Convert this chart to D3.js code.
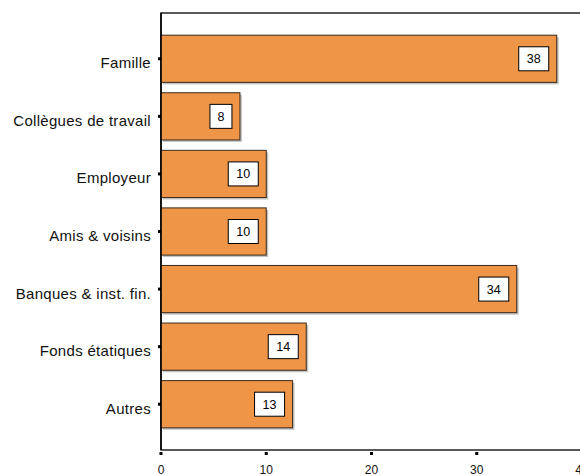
<!DOCTYPE html>
<html>
<head>
<meta charset="utf-8">
<script src="https://cdn.jsdelivr.net/npm/d3@7"></script>
<style>
  body { margin: 0; background: #fff; }
  svg { font-family: "Liberation Sans", Arial, sans-serif; }
</style>
</head>
<body>
<svg id="svg1" width="580" height="476"></svg>
<script>
var categories = ['Famille', 'Collègues de travail', 'Employeur', 'Amis & voisins', 'Banques & inst. fin.', 'Fonds étatiques', 'Autres'];
var values = [37.6, 7.5, 10, 10, 33.8, 13.8, 12.5];
var valueLabels = ['38', '8', '10', '10', '34', '14', '13'];
var xTicks = [0, 10, 20, 30, 40];

var marginLeft = 161;
var marginTop = 13;
var plotBottom = 450;

var svg = d3.select('#svg1');

var scaleX = d3.scaleLinear().domain([0, 40]).range([marginLeft, marginLeft + 421]);
var scaleY = d3.scaleBand().domain(categories).range([30, 433]).paddingInner(0.18).paddingOuter(0.09);

var data = categories.map(function(c, i){ return {cat: c, val: values[i], lab: valueLabels[i]}; });

// frame
svg.append('rect')
    .attr('x', marginLeft).attr('y', marginTop)
    .attr('width', scaleX(40) - marginLeft).attr('height', plotBottom - marginTop)
    .attr('fill', 'none').attr('stroke', '#000').attr('stroke-width', 1.3);

// shadows
svg.selectAll('.shadow').data(data).enter().append('rect')
    .attr('x', marginLeft + 2)
    .attr('y', function(d){ return scaleY(d.cat) + 2; })
    .attr('width', function(d){ return scaleX(d.val) - marginLeft; })
    .attr('height', scaleY.bandwidth())
    .attr('fill', '#c4c4c4');

// bars
svg.selectAll('.bar').data(data).enter().append('rect')
    .attr('x', marginLeft)
    .attr('y', function(d){ return scaleY(d.cat); })
    .attr('width', function(d){ return scaleX(d.val) - marginLeft; })
    .attr('height', scaleY.bandwidth())
    .attr('fill', '#EE9548')
    .attr('stroke', '#3a2a1a').attr('stroke-width', 1);

// value boxes
var lbl = svg.selectAll('.lbl').data(data).enter().append('g');
lbl.each(function(d){
    var g = d3.select(this);
    var w = d.lab.length > 1 ? 30 : 22;
    var right = scaleX(d.val) - 8;
    var cy = scaleY(d.cat) + scaleY.bandwidth() / 2;
    g.append('rect')
        .attr('x', right - w).attr('y', cy - 12)
        .attr('width', w).attr('height', 24)
        .attr('fill', '#fff').attr('stroke', '#000').attr('stroke-width', 1);
    g.append('text')
        .attr('x', right - w / 2).attr('y', cy + 4.5)
        .attr('text-anchor', 'middle').attr('font-size', 12.5)
        .text(d.lab);
});

// y axis
svg.append('line')
    .attr('x1', marginLeft).attr('x2', marginLeft)
    .attr('y1', marginTop).attr('y2', plotBottom)
    .attr('stroke', '#000').attr('stroke-width', 1.5);

svg.selectAll('.ytick').data(categories).enter().append('rect')
    .attr('x', marginLeft - 3)
    .attr('y', function(d){ return scaleY(d) + scaleY.bandwidth() / 2 - 1.5; })
    .attr('width', 3).attr('height', 3).attr('fill', '#000');

svg.selectAll('.ylab').data(categories).enter().append('text')
    .attr('x', 151)
    .attr('y', function(d){ return scaleY(d) + scaleY.bandwidth() / 2 + 9.5; })
    .attr('text-anchor', 'end').attr('font-size', 15).attr('letter-spacing', 0.3).attr('fill', '#111')
    .text(function(d){ return d; });

// x axis
svg.selectAll('.xtick').data(xTicks).enter().append('rect')
    .attr('x', function(d){ return scaleX(d) - 1.5; })
    .attr('y', plotBottom + 2)
    .attr('width', 3).attr('height', 3).attr('fill', '#000');

svg.selectAll('.xlab').data(xTicks).enter().append('text')
    .attr('x', function(d){ return scaleX(d); })
    .attr('y', 474)
    .attr('text-anchor', 'middle').attr('font-size', 12).attr('fill', '#111')
    .text(function(d){ return d; });
</script>
</body>
</html>
